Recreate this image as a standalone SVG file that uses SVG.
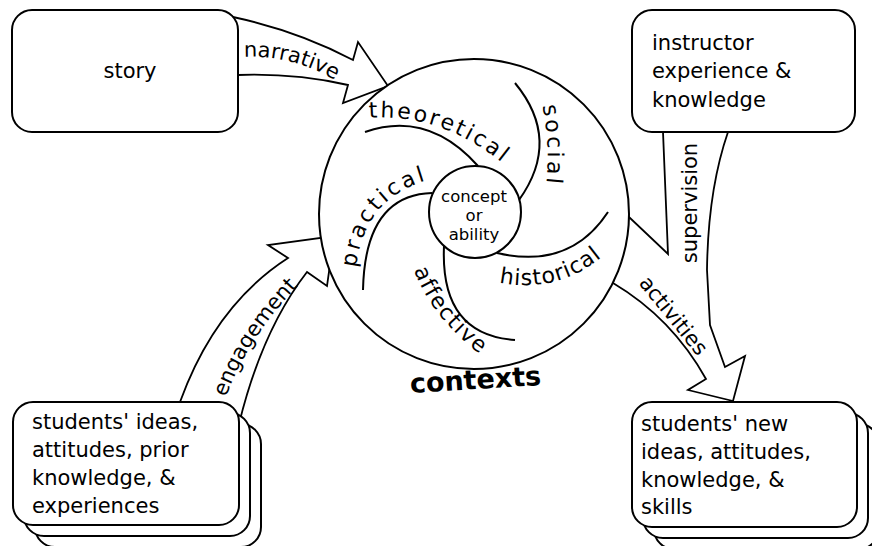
<svg xmlns="http://www.w3.org/2000/svg" width="872" height="546" viewBox="0 0 872 546">
<style>
.box{fill:#fff;stroke:#000;stroke-width:2}
.arrow{fill:#fff;stroke:#000;stroke-width:1.8;stroke-linejoin:miter}
.arc{fill:none;stroke:#000;stroke-width:2}
.t{font-family:"DejaVu Sans","Liberation Sans",sans-serif;font-size:21px;fill:#000}
.lbl{font-family:"DejaVu Sans","Liberation Sans",sans-serif;font-size:22px;fill:#000}
.small{font-family:"DejaVu Sans","Liberation Sans",sans-serif;font-size:16.5px;text-anchor:middle;fill:#000}
.bold{font-family:"DejaVu Sans","Liberation Sans",sans-serif;font-size:27px;font-weight:bold;text-anchor:middle;fill:#000}
</style>
<defs>
<path id="p-narr" d="M244,57 Q295,54 345,86"/>
<path id="p-eng" d="M222,408 Q246,336 306,278"/>
<path id="p-theo" d="M367,118 Q440,112 505,165"/>
<path id="p-soc" d="M541,100 Q552,145 545,195"/>
<path id="p-hist" d="M497,282 Q560,296 610,250"/>
<path id="p-aff" d="M414,270 Q432,318 480,354"/>
<path id="p-prac" d="M356,268 Q364,198 428,180"/>
</defs>
<rect width="872" height="546" fill="#fff"/>
<g id="connectors">
<path id="narrative" class="arrow" d="M233,17 Q298,31 353,60 L358,42 L388,86 L343,103 L348,85 Q295,73 238,75 Z"/>
<path id="engagement" class="arrow" d="M180,402 Q215,305 288,258 L268,245 L334,236 L327,286 L307,272 Q262,330 239,424 Z"/>
<path id="supervision-activities" class="arrow" d="M663,132 L668,254 L629,217 L613,283 Q672,318 706,379 L688,390 L733,401 L745,356 L725,367 L710,325 L707,270 Q708,190 728,132 Z"/>
<text class="t"><textPath href="#p-narr" startOffset="0">narrative</textPath></text>
<text class="t" text-anchor="middle"><textPath href="#p-eng" startOffset="50%">engagement</textPath></text>
<text class="t" x="697" y="203" text-anchor="middle" transform="rotate(-90 697 203)">supervision</text>
<text class="t" x="668" y="320" text-anchor="middle" transform="rotate(51 668 320)">activities</text>
</g>
<g id="story">
<rect class="box" x="12" y="10" width="226" height="122" rx="20"/>
<text class="t" x="130" y="78" text-anchor="middle">story</text>
</g>
<g id="instructor">
<rect class="box" x="632" y="10" width="223" height="122" rx="20"/>
<text class="t" x="652" y="50">instructor</text>
<text class="t" x="652" y="78">experience &amp;</text>
<text class="t" x="652" y="107">knowledge</text>
</g>
<g id="students">
<rect class="box" x="35" y="424" width="226" height="123" rx="20"/>
<rect class="box" x="24" y="413" width="226" height="123" rx="20"/>
<rect class="box" x="13" y="402" width="226" height="123" rx="20"/>
<text class="t" x="32" y="429">students' ideas,</text>
<text class="t" x="32" y="457">attitudes, prior</text>
<text class="t" x="32" y="485">knowledge, &amp;</text>
<text class="t" x="32" y="513">experiences</text>
</g>
<g id="students-new">
<rect class="box" x="654" y="424" width="225" height="125" rx="20"/>
<rect class="box" x="643" y="413" width="225" height="125" rx="20"/>
<rect class="box" x="632" y="402" width="225" height="125" rx="20"/>
<text class="t" x="641" y="431">students' new</text>
<text class="t" x="641" y="459">ideas, attitudes,</text>
<text class="t" x="641" y="487">knowledge, &amp;</text>
<text class="t" x="641" y="514">skills</text>
</g>
<g id="contexts">
<circle class="box" cx="474" cy="214" r="155"/>
<path class="arc" d="M365,132 Q428,110 478,166"/>
<path class="arc" d="M515,83 Q562,140 519,200"/>
<path class="arc" d="M497,253 Q570,270 608,212"/>
<path class="arc" d="M444,246 Q440,335 515,340"/>
<path class="arc" d="M432,193 Q365,195 363,290"/>
<text class="lbl" letter-spacing="2.5"><textPath href="#p-theo" startOffset="2">theoretical</textPath></text>
<text class="lbl" letter-spacing="3"><textPath href="#p-soc" startOffset="6">social</textPath></text>
<text class="lbl" letter-spacing="1"><textPath href="#p-hist" startOffset="2">historical</textPath></text>
<text class="lbl" letter-spacing="1.5"><textPath href="#p-aff" startOffset="0">affective</textPath></text>
<text class="lbl" letter-spacing="3"><textPath href="#p-prac" startOffset="0">practical</textPath></text>
<text class="bold" x="476" y="389" transform="rotate(-3.5 476 389)">contexts</text>
</g>
<g id="concept">
<circle class="box" cx="475" cy="212" r="46"/>
<text class="small" x="474" y="202">concept</text>
<text class="small" x="474" y="221">or</text>
<text class="small" x="474" y="240">ability</text>
</g>
</svg>
